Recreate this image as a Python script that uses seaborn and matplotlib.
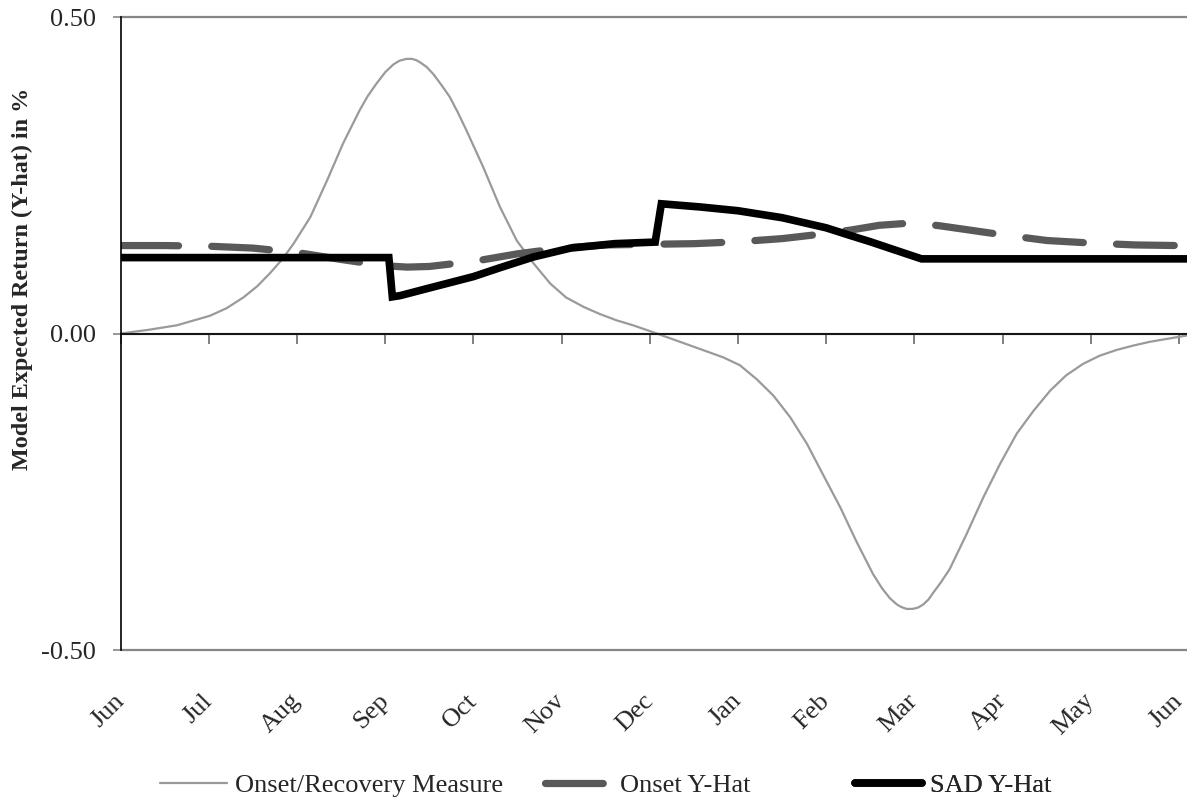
import numpy as np
import pandas as pd
import matplotlib
matplotlib.use("Agg")
import matplotlib.pyplot as plt
import seaborn as sns

# Datos (x en meses desde junio)
meses = ["Jun", "Jul", "Aug", "Sep", "Oct", "Nov", "Dec",
         "Jan", "Feb", "Mar", "Apr", "May", "Jun"]

onset_rec_x = [0, 0.32, 0.635, 1.01, 1.2, 1.39, 1.55, 1.69, 1.83, 1.96, 2.15, 2.34,
               2.52, 2.62, 2.71, 2.80, 2.90, 3.00, 3.09, 3.16, 3.24, 3.30, 3.35,
               3.40, 3.47, 3.55, 3.65, 3.73, 3.82, 3.92, 4.11,
               4.30, 4.49, 4.68, 4.87, 5.05, 5.25, 5.43, 5.62, 5.81, 6.08, 6.46,
               6.83, 7.02, 7.21, 7.40, 7.59, 7.78, 7.96, 8.16, 8.34, 8.53, 8.63,
               8.72, 8.80, 8.85, 8.91, 8.98, 9.04, 9.10, 9.16, 9.21, 9.30, 9.40,
               9.59, 9.78, 9.97, 10.16, 10.35, 10.54,
               10.72, 10.91, 11.10, 11.29, 11.48, 11.67, 11.86, 12.09]
onset_rec_y = [0.0, 0.006, 0.013, 0.028, 0.040, 0.057, 0.075, 0.095, 0.117, 0.142,
               0.184, 0.242, 0.300, 0.328, 0.353, 0.375, 0.395, 0.413, 0.425, 0.431,
               0.434, 0.434, 0.432, 0.428, 0.421, 0.409, 0.390, 0.374, 0.350, 0.321,
               0.263, 0.200, 0.147, 0.111, 0.079, 0.057, 0.042, 0.031,
               0.021, 0.013, 0.0, -0.019, -0.0375, -0.050, -0.072, -0.098, -0.132,
               -0.174, -0.222, -0.275, -0.328, -0.380, -0.402, -0.418, -0.428,
               -0.432, -0.435, -0.435, -0.433, -0.428, -0.420, -0.410, -0.393,
               -0.372, -0.317, -0.259, -0.206, -0.158, -0.122, -0.090, -0.066,
               -0.048, -0.035, -0.026, -0.019, -0.013, -0.0085, -0.003]

onset_hat_x = [0, 0.5, 1.0, 1.5, 2.0, 2.5, 3.0, 3.25, 3.5, 4.0, 4.5, 5.0, 5.5, 6.0,
               6.5, 7.0, 7.5, 8.0, 8.3, 8.6, 9.0, 9.3, 9.6, 10.0, 10.5, 11.0, 11.5,
               12.0, 12.09]
onset_hat_y = [0.139, 0.139, 0.138, 0.135, 0.128, 0.117, 0.107, 0.105, 0.106, 0.114,
               0.126, 0.135, 0.140, 0.141, 0.142, 0.145, 0.150, 0.158, 0.164, 0.171,
               0.175, 0.170, 0.164, 0.156, 0.147, 0.143, 0.140, 0.139, 0.139]

sad_hat_x = [0, 3.04, 3.08, 3.17, 3.5, 4.0, 4.3, 4.68, 5.1, 5.6, 6.06, 6.13, 6.57,
             7.0, 7.5, 8.0, 8.27, 8.5, 8.8, 9.08, 12.09]
sad_hat_y = [0.120, 0.120, 0.058, 0.060, 0.072, 0.090, 0.104, 0.121, 0.135, 0.142,
             0.1445, 0.205, 0.200, 0.194, 0.183, 0.167, 0.155, 0.145, 0.131, 0.118,
             0.118]

df_rec = pd.DataFrame({"mes": onset_rec_x, "valor": onset_rec_y})
df_onset = pd.DataFrame({"mes": onset_hat_x, "valor": onset_hat_y})
df_sad = pd.DataFrame({"mes": sad_hat_x, "valor": sad_hat_y})

# Estilo
sns.set_style("white")
plt.rcParams["font.family"] = ["Liberation Serif", "DejaVu Serif"]
fs = 19

fig = plt.figure(figsize=(11.87, 8.09), dpi=100)
ax = fig.add_axes([0.1017, 0.1965, 0.8983, 0.7824])

sns.lineplot(data=df_rec, x="mes", y="valor", ax=ax, color="#9a9a9a", lw=1.6,
             estimator=None, sort=False, label="Onset/Recovery Measure")
sns.lineplot(data=df_onset, x="mes", y="valor", ax=ax, color="#595959", lw=5.2,
             estimator=None, sort=False, linestyle=(0, (8, 4.6)),
             dash_capstyle="round", label="Onset Y-Hat")
sns.lineplot(data=df_sad, x="mes", y="valor", ax=ax, color="black", lw=5.5,
             estimator=None, sort=False, solid_joinstyle="miter",
             label="SAD Y-Hat")

ax.set_xlim(0, 12.09)
ax.set_ylim(-0.5, 0.5)

# Eje Y
ax.set_yticks([-0.5, 0.0, 0.5])
ax.set_yticklabels(["-0.50", "0.00", "0.50"], fontsize=fs)
ax.tick_params(axis="y", direction="out", length=6, width=1.2, color="#868686",
               pad=12, left=True)
ax.set_ylabel("Model Expected Return (Y-hat) in %", fontsize=17.4, fontweight="bold")
ax.yaxis.set_label_coords(-0.082, 0.586)

# Líneas horizontales de la cuadrícula (0.50 y -0.50)
ax.yaxis.grid(True, color="#868686", lw=1.6)
for linea in ax.get_ygridlines():
    linea.set_clip_on(False)

# Bordes: eje X en cero, eje Y negro
ax.spines["left"].set_color("black")
ax.spines["left"].set_linewidth(1.2)
ax.spines["right"].set_visible(False)
ax.spines["top"].set_visible(False)
ax.spines["bottom"].set_position(("data", 0))
ax.spines["bottom"].set_color("black")
ax.spines["bottom"].set_linewidth(1.2)
ax.spines["bottom"].set_zorder(3)

# Marcas en el eje cero, etiquetas de meses bajo el gráfico
ax.set_xticks(range(13))
ax.set_xticklabels(meses, fontsize=fs, rotation=45, ha="right", va="center",
                   rotation_mode="anchor")
ax.tick_params(axis="x", direction="out", length=7, width=1.2, color="#6a6a6a",
               bottom=True, pad=255)
ax.set_xlabel("")

# Leyenda (tres entradas con su propia posición)
handles, labels = ax.get_legend_handles_labels()
ax.get_legend().remove()
pos_x = [160, 545, 855]
for h, l, px in zip(handles, labels, pos_x):
    leg = ax.legend([h], [l], loc="center left",
                    bbox_to_anchor=(px / 1187, 1 - 785 / 809),
                    bbox_transform=fig.transFigure, frameon=False, fontsize=fs,
                    handlelength=2.55, handletextpad=0.3, borderpad=0,
                    borderaxespad=0)
    ax.add_artist(leg)

fig.savefig("out.png", dpi=100)
